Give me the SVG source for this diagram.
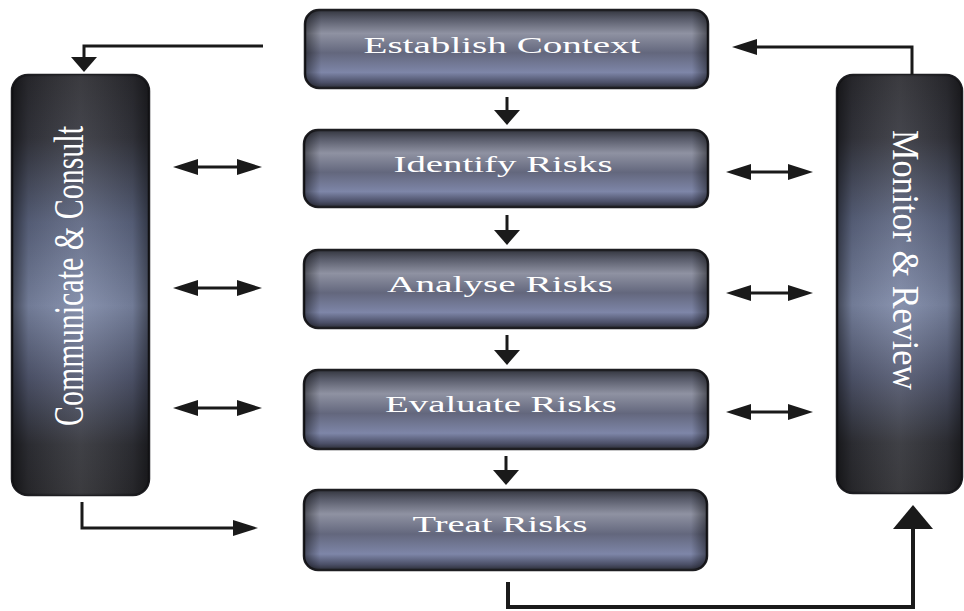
<svg xmlns="http://www.w3.org/2000/svg" width="964" height="611" viewBox="0 0 964 611">
<style>
.box{stroke:#1e1e22;stroke-width:2.5}
.lbl{font-family:"Liberation Serif","Times New Roman",serif;fill:#ffffff;font-size:24px;text-anchor:middle}
.side{font-family:"Liberation Serif","Times New Roman",serif;fill:#ffffff;text-anchor:middle}
.ln{fill:none;stroke:#1a1a1a;stroke-width:3}
.dbl{marker-start:url(#thin);marker-end:url(#thin)}
.dn{marker-end:url(#down)}
</style>
<defs>
<linearGradient id="gBox" x1="0" y1="0" x2="0" y2="1">
<stop offset="0" stop-color="#34363f"/>
<stop offset="0.12" stop-color="#5a5d6c"/>
<stop offset="0.3" stop-color="#8f92a2"/>
<stop offset="0.55" stop-color="#63677d"/>
<stop offset="0.8" stop-color="#7e86a8"/>
<stop offset="0.93" stop-color="#4c5068"/>
<stop offset="1" stop-color="#2c2e38"/>
</linearGradient>
<linearGradient id="gBoxH" x1="0" y1="0" x2="1" y2="0">
<stop offset="0" stop-color="#000" stop-opacity="0.45"/>
<stop offset="0.04" stop-color="#000" stop-opacity="0"/>
<stop offset="0.96" stop-color="#000" stop-opacity="0"/>
<stop offset="1" stop-color="#000" stop-opacity="0.45"/>
</linearGradient>
<linearGradient id="gCol" x1="0" y1="0" x2="0" y2="1">
<stop offset="0" stop-color="#2a2a2f"/>
<stop offset="0.15" stop-color="#34353d"/>
<stop offset="0.35" stop-color="#5c6580"/>
<stop offset="0.55" stop-color="#7d88a6"/>
<stop offset="0.72" stop-color="#525870"/>
<stop offset="0.88" stop-color="#2f3036"/>
<stop offset="1" stop-color="#2a2a2e"/>
</linearGradient>
<linearGradient id="gColH" x1="0" y1="0" x2="1" y2="0">
<stop offset="0" stop-color="#000" stop-opacity="0.5"/>
<stop offset="0.12" stop-color="#000" stop-opacity="0.1"/>
<stop offset="0.5" stop-color="#fff" stop-opacity="0.08"/>
<stop offset="0.88" stop-color="#000" stop-opacity="0.1"/>
<stop offset="1" stop-color="#000" stop-opacity="0.45"/>
</linearGradient>
<marker id="thin" markerUnits="userSpaceOnUse" markerWidth="25" markerHeight="16" refX="13" refY="8" orient="auto-start-reverse" viewBox="0 0 25 16">
<path d="M0,0 L25,8 L0,16 Z" fill="#1a1a1a"/>
</marker>
<marker id="down" markerUnits="userSpaceOnUse" markerWidth="15" markerHeight="26" refX="2" refY="13" orient="auto" viewBox="0 0 15 26">
<path d="M0,0 L15,13 L0,26 Z" fill="#1a1a1a"/>
</marker>
<marker id="big" markerUnits="userSpaceOnUse" markerWidth="24" markerHeight="40" refX="2" refY="20" orient="auto" viewBox="0 0 24 40">
<path d="M0,0 L24,20 L0,40 Z" fill="#1a1a1a"/>
</marker>
</defs>
<rect width="964" height="611" fill="#ffffff"/>

<g id="communicate">
<rect x="12" y="75" width="137" height="420" rx="16" fill="url(#gCol)" class="box"/>
<rect x="12" y="75" width="137" height="420" rx="16" fill="url(#gColH)"/>
<text class="side" font-size="42" transform="translate(83,276) rotate(-90)" textLength="300" lengthAdjust="spacingAndGlyphs">Communicate &amp; Consult</text>
</g>
<g id="monitor">
<rect x="837" y="75" width="125" height="418" rx="16" fill="url(#gCol)" class="box"/>
<rect x="837" y="75" width="125" height="418" rx="16" fill="url(#gColH)"/>
<text class="side" font-size="38" transform="translate(893,260) rotate(90)" textLength="260" lengthAdjust="spacingAndGlyphs">Monitor &amp; Review</text>
</g>

<g id="establish">
<rect x="305" y="10" width="403" height="78" rx="14" fill="url(#gBox)" class="box"/>
<rect x="305" y="10" width="403" height="78" rx="14" fill="url(#gBoxH)"/>
<text class="lbl" x="502" y="53" textLength="277" lengthAdjust="spacingAndGlyphs">Establish Context</text>
</g>
<g id="identify">
<rect x="304" y="130" width="404" height="77" rx="14" fill="url(#gBox)" class="box"/>
<rect x="304" y="130" width="404" height="77" rx="14" fill="url(#gBoxH)"/>
<text class="lbl" x="503" y="172" textLength="219" lengthAdjust="spacingAndGlyphs">Identify Risks</text>
</g>
<g id="analyse">
<rect x="304" y="250" width="404" height="78" rx="14" fill="url(#gBox)" class="box"/>
<rect x="304" y="250" width="404" height="78" rx="14" fill="url(#gBoxH)"/>
<text class="lbl" x="500" y="292" textLength="226" lengthAdjust="spacingAndGlyphs">Analyse Risks</text>
</g>
<g id="evaluate">
<rect x="304" y="370" width="404" height="79" rx="14" fill="url(#gBox)" class="box"/>
<rect x="304" y="370" width="404" height="79" rx="14" fill="url(#gBoxH)"/>
<text class="lbl" x="501" y="412" textLength="232" lengthAdjust="spacingAndGlyphs">Evaluate Risks</text>
</g>
<g id="treat">
<rect x="304" y="490" width="403" height="80" rx="14" fill="url(#gBox)" class="box"/>
<rect x="304" y="490" width="403" height="80" rx="14" fill="url(#gBoxH)"/>
<text class="lbl" x="500" y="532" textLength="175" lengthAdjust="spacingAndGlyphs">Treat Risks</text>
</g>

<g id="connectors">
<path class="ln dn" d="M263,46 H84 V59"/>
<path class="ln" d="M912,75 V47 H744" style="marker-end:url(#thin)"/>
<path class="ln dn" d="M507,97 V112"/>
<path class="ln dn" d="M507,215 V232"/>
<path class="ln dn" d="M507,335 V352"/>
<path class="ln dn" d="M506,456 V472"/>
<path class="ln dbl" d="M185,167 H250"/>
<path class="ln dbl" d="M185,288 H250"/>
<path class="ln dbl" d="M185,408 H250"/>
<path class="ln dbl" d="M738,172 H801"/>
<path class="ln dbl" d="M738,293 H801"/>
<path class="ln dbl" d="M738,412 H801"/>
<path class="ln" d="M82,502 V528 H246" style="marker-end:url(#thin)"/>
<path class="ln" d="M508,582 V607 H913 V527" style="stroke-width:4;marker-end:url(#big)"/>
</g>
</svg>
